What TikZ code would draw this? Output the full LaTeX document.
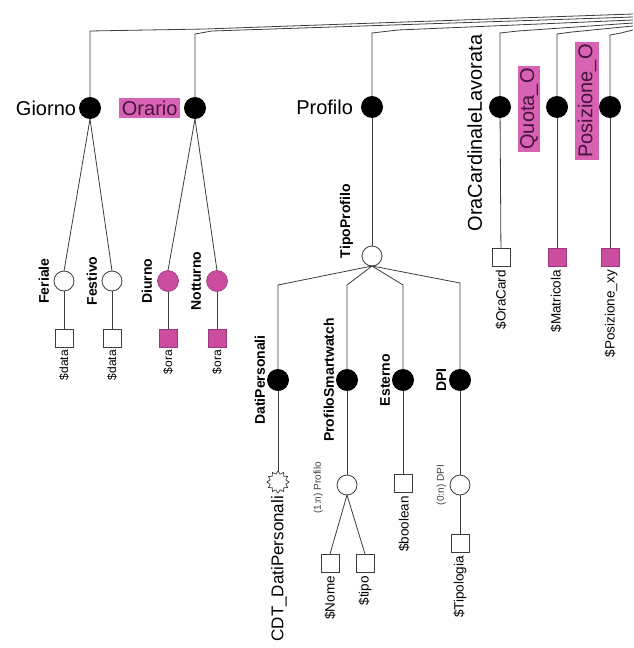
\documentclass[tikz,border=0pt]{standalone}
\usepackage{fontspec}
\setmainfont{Liberation Sans}
\usetikzlibrary{shapes.geometric}
\definecolor{pinkfill}{RGB}{204,76,160}
\definecolor{pinktag}{RGB}{216,98,180}
\definecolor{pinktext}{RGB}{70,20,60}
\definecolor{linegray}{RGB}{60,60,60}
\begin{document}
\begin{tikzpicture}[x=1pt,y=-1pt,
  every node/.style={inner sep=0pt, outer sep=0pt},
  entity/.style={circle, fill=black, minimum size=22pt},
  optnode/.style={circle, draw=linegray, fill=white, minimum size=20pt, line width=0.8pt},
  pinknode/.style={circle, fill=pinkfill, draw=pinkfill!75!black, minimum size=21pt, line width=0.6pt},
  leafbox/.style={rectangle, draw=linegray, fill=white, minimum size=18pt, line width=0.8pt},
  pinkbox/.style={rectangle, fill=pinkfill, draw=pinkfill!75!black, minimum size=18pt, line width=0.6pt},
  extnode/.style={star, star points=12, star point ratio=1.35, draw=linegray, fill=white, minimum size=22pt, line width=0.7pt},
  conn/.style={draw=linegray, line width=0.8pt},
  biglabel/.style={font=\fontsize{20}{22}\selectfont},
  tag/.style={fill=pinktag, inner sep=2.5pt, text=pinktext, font=\fontsize{20}{22}\selectfont},
  sublabel/.style={font=\bfseries\fontsize{14}{16}\selectfont, rotate=90, anchor=south},
  cardlabel/.style={font=\fontsize{10}{12}\selectfont, text=black!75, rotate=90, anchor=south},
  leaflabel/.style={font=\fontsize{13.5}{15}\selectfont, rotate=90, anchor=east},
  shortleaf/.style={leaflabel, font=\fontsize{12}{14}\selectfont},
]
\useasboundingbox (0,0) rectangle (633,648);

% ---- first-level attributes ----
\node[entity] (giorno) at (90,108) {};
\node[entity] (orario) at (195,108) {};
\node[entity] (profilo) at (372,107) {};
\node[entity] (oracard) at (500,107) {};
\node[entity] (quota) at (557,107) {};
\node[entity] (posiz) at (610,107) {};

\node[biglabel, anchor=east] (lgiorno) at (76,108) {Giorno};
\node[tag, anchor=east] (lorario) at (180,108) {Orario};
\node[biglabel, anchor=east] (lprofilo) at (353,107) {Profilo};
\node[biglabel, rotate=90, anchor=south] (loracard) at (482,133) {OraCardinaleLavorata};
\node[tag, rotate=90] (lquota) at (529,109) {Quota\_O};
\node[tag, rotate=90] (lposiz) at (587,101) {Posizione\_O};

% ---- bundle of links towards the parent on the right ----
\coordinate (eg) at (633,14);
\coordinate (eo) at (633,17);
\coordinate (ep) at (633,20);
\coordinate (ec) at (633,23);
\coordinate (eq) at (633,26);
\coordinate (ex) at (633,30);
\draw[conn] (giorno) -- (90,31) -- (205,29) -- (eg);
\draw[conn] (orario) -- (195,34) -- (212,31) -- (eo);
\draw[conn] (profilo) -- (372,33) -- (398,30) -- (ep);
\draw[conn] (oracard) -- (500,33) -- (518,31) -- (ec);
\draw[conn] (quota) -- (557,34) -- (572,32) -- (eq);
\draw[conn] (posiz) -- (610,35) -- (621,33) -- (ex);

% ---- Giorno ----
\node[optnode] (feriale) at (64,281) {};
\node[optnode] (festivo) at (112,281) {};
\node[leafbox] (dferiale) at (64,338) {};
\node[leafbox] (dfestivo) at (112,338) {};
\draw[conn] (giorno.south) -- (feriale.north);
\draw[conn] (giorno.south) -- (festivo.north);
\draw[conn] (feriale) -- (dferiale);
\draw[conn] (festivo) -- (dfestivo);
\node[sublabel] (lferiale) at (49,281) {Feriale};
\node[sublabel] (lfestivo) at (97,281) {Festivo};
\node[shortleaf] (tferiale) at (64,350) {\$data};
\node[shortleaf] (tfestivo) at (112,350) {\$data};

% ---- Orario ----
\node[pinknode] (diurno) at (168,281) {};
\node[pinknode] (notturno) at (217,281) {};
\node[pinkbox] (odiurno) at (168,338) {};
\node[pinkbox] (onotturno) at (217,338) {};
\draw[conn] (orario.south) -- (diurno.north);
\draw[conn] (orario.south) -- (notturno.north);
\draw[conn] (diurno) -- (odiurno);
\draw[conn] (notturno) -- (onotturno);
\node[sublabel] (ldiurno) at (152,281) {Diurno};
\node[sublabel] (lnotturno) at (201,281) {Notturno};
\node[shortleaf] (todiurno) at (168,350) {\$ora};
\node[shortleaf] (tonotturno) at (217,350) {\$ora};

% ---- Profilo ----
\node[optnode] (tipo) at (372,256) {};
\draw[conn] (profilo) -- (tipo);
\node[sublabel, anchor=south west] (ltipo) at (353,258) {TipoProfilo};

\node[entity] (dati) at (278,380) {};
\node[entity] (smart) at (347,380) {};
\node[entity] (esterno) at (403,380) {};
\node[entity] (dpi) at (460,380) {};
\coordinate (bdati) at (278,285);
\coordinate (bsmart) at (347,285);
\coordinate (besterno) at (403,285);
\coordinate (bdpi) at (460,283);
\draw[conn] (tipo.south) -- (bdati) -- (dati);
\draw[conn] (tipo.south) -- (bsmart) -- (smart);
\draw[conn] (tipo.south) -- (besterno) -- (esterno);
\draw[conn] (tipo.south) -- (bdpi) -- (dpi);
\node[sublabel] (ldati) at (265,380) {DatiPersonali};
\node[sublabel] (lsmart) at (334,380) {ProfiloSmartwatch};
\node[sublabel] (lesterno) at (390,380) {Esterno};
\node[sublabel] (ldpi) at (446,380) {DPI};

% DatiPersonali
\node[extnode] (cdt) at (278,482) {};
\draw[conn] (dati) -- (cdt);
\node[font=\fontsize{17}{19}\selectfont, rotate=90, anchor=east] (lcdt) at (279,496) {CDT\_DatiPersonali};

% ProfiloSmartwatch
\node[optnode] (psmart) at (347,485) {};
\draw[conn] (smart) -- (psmart);
\node[cardlabel] (cpsmart) at (323,488) {(1:n) Profilo};
\node[leafbox] (nome) at (330,563) {};
\node[leafbox] (tiposm) at (365,563) {};
\draw[conn] (psmart.south) -- (nome.north);
\draw[conn] (psmart.south) -- (tiposm.north);
\node[leaflabel] (tnome) at (330,576) {\$Nome};
\node[leaflabel] (ttiposm) at (365,576) {\$tipo};

% Esterno
\node[leafbox] (bool) at (403,483) {};
\draw[conn] (esterno) -- (bool);
\node[leaflabel] (tbool) at (404,496) {\$boolean};

% DPI
\node[optnode] (pdpi) at (460,485) {};
\draw[conn] (dpi) -- (pdpi);
\node[cardlabel] (cpdpi) at (446,485) {(0:n) DPI};
\node[leafbox] (tipol) at (460,543) {};
\draw[conn] (pdpi) -- (tipol);
\node[leaflabel] (ttipol) at (460,556) {\$Tipologia};

% ---- simple attributes on the right ----
\node[leafbox] (soracard) at (501,257) {};
\node[pinkbox] (squota) at (557,257) {};
\node[pinkbox] (sposiz) at (610,257) {};
\draw[conn] (oracard) -- (soracard);
\draw[conn] (quota) -- (squota);
\draw[conn] (posiz) -- (sposiz);
\node[leaflabel] (toracard) at (501,270) {\$OraCard};
\node[leaflabel] (tquota) at (556,270) {\$Matricola};
\node[leaflabel] (tposiz) at (611,270) {\$Posizione\_xy};
\end{tikzpicture}
\end{document}
